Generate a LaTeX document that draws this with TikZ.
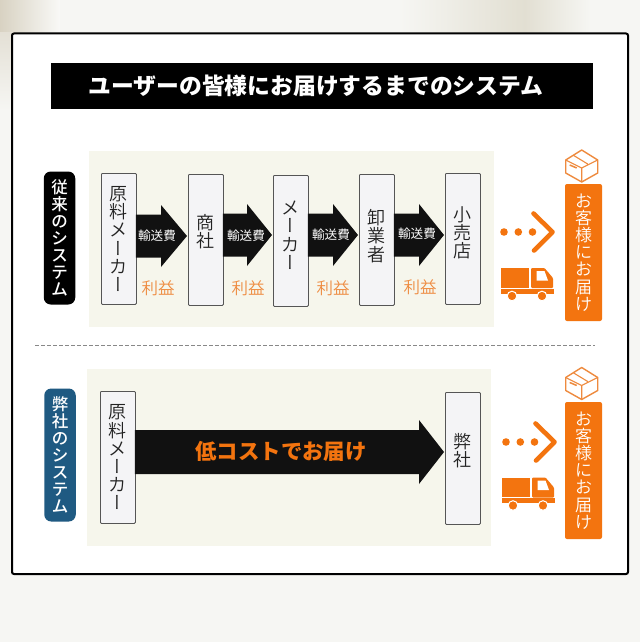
\documentclass[tikz,border=0pt]{standalone}
\usepackage{fontspec}
\setmainfont{Noto Sans CJK JP}
\newfontfamily\vertf[RawFeature=+vert]{Noto Sans CJK JP}
\newfontfamily\medf{Noto Sans CJK JP Medium}
\newfontfamily\lightf{Noto Sans CJK JP DemiLight}
\newfontfamily\lightvertf[RawFeature=+vert]{Noto Sans CJK JP DemiLight}
\lineskiplimit=-20pt
\definecolor{pagebg}{HTML}{F6F6F3}
\definecolor{rowbg}{HTML}{F6F6EC}
\definecolor{boxfill}{HTML}{F4F4F6}
\definecolor{boxline}{HTML}{555555}
\definecolor{ink}{HTML}{222222}
\definecolor{arrowblack}{HTML}{111111}
\definecolor{accent}{HTML}{F3740F}
\definecolor{softorange}{HTML}{EE8A3E}
\definecolor{navy}{HTML}{1F5A82}
\definecolor{beige}{HTML}{D8D2C2}
\definecolor{topbeige}{HTML}{E2DFD2}
\newcommand\vb{{\lightvertf ー}}
\newcommand\flowarrow[6]{%
  \fill[arrowblack] ([xshift=-1pt]#1.east |- 0,#3-#5) -- (#4,#3-#5) -- (#4,#3-#6)
    -- ([xshift=-1pt]#2.west |- 0,#3) -- (#4,#3+#6) -- (#4,#3+#5)
    -- ([xshift=-1pt]#1.east |- 0,#3+#5) -- cycle;}
\tikzset{
  x=1pt,y=-1pt,
  stage/.style={draw=boxline,line width=0.8pt,fill=boxfill,rounded corners=1pt,minimum width=35pt,anchor=north west,inner sep=0pt,text=ink,align=center,font=\fontsize{18}{18.2}\selectfont\lightf},
  tag/.style={rounded corners=7pt,minimum width=31.5pt,minimum height=133pt,inner sep=0pt,text=white,align=center,font=\fontsize{16.5}{17}\selectfont\medf},
  cost/.style={text=white,inner sep=0pt,font=\fontsize{12.6}{13}\selectfont},
  profit/.style={text=softorange,inner sep=0pt,font=\fontsize{16.5}{18}\selectfont\lightf},
  customer/.style={fill=accent,rounded corners=2pt,minimum width=37pt,minimum height=137pt,inner sep=0pt,text=white,align=center,font=\fontsize{17}{17.2}\selectfont\lightf},
  parcel/.pic={
    \draw[softorange,line width=1.4pt,line join=round,fill=white]
      (0,-16) -- (16,-6) -- (16,7) -- (0,16) -- (-16,7) -- (-16,-6) -- cycle;
    \draw[softorange,line width=1.1pt,line join=round]
      (-16,-6) -- (0,2) -- (16,-6) (0,2) -- (0,16)
      (-8,-10.5) -- (6,-2);
    \draw[softorange,line width=1.5pt] (-12,-1) -- (-5,2);
  },
  delivery/.pic={
    \fill[accent] (0,0) rectangle (28.5,19.5);
    \fill[accent] (0,20.5) rectangle (53,25.5);
    \fill[accent,rounded corners=1pt] (30.5,0) -- (44,0) -- (52.5,10) -- (52.5,20) -- (30.5,20) -- cycle;
    \fill[white] (36,3) -- (44,3) -- (47.5,12.5) -- (36,12.5) -- cycle;
    \fill[accent,draw=white,line width=1pt] (11.5,28) circle (4.8);
    \fill[accent,draw=white,line width=1pt] (41.5,28) circle (4.8);
  },
  dotsarrow/.pic={
    \fill[accent] (0,0) circle (3.8) (14.3,0) circle (3.8) (28.5,0) circle (3.8);
    \draw[accent,line width=4.6pt,line cap=round,line join=round] (29.5,-18.5) -- (48.5,0) -- (30,18.5);
  },
}
\begin{document}
\begin{tikzpicture}
\useasboundingbox (0,0) rectangle (640,642);
\fill[pagebg] (0,0) rectangle (640,642);
\shade[left color=beige,right color=pagebg!70!white] (0,0) rectangle (60,33);
\shade[top color=beige!60!pagebg,bottom color=pagebg] (0,33) rectangle (12,110);
\shade[left color=pagebg,right color=topbeige] (400,0) rectangle (525,33);
\shade[left color=topbeige,right color=pagebg] (525,0) rectangle (590,33);
\draw[black,line width=2pt,fill=white,rounded corners=2pt] (12,33.5) rectangle (628,574);
\node[fill=black,minimum width=542pt,minimum height=46pt,inner sep=0pt,text=white,font=\fontsize{22.8}{24}\selectfont\bfseries] (title) at (322,86) {ユーザーの皆様にお届けするまでのシステム\hspace*{12pt}};
\fill[rowbg] (89,151) rectangle (494,327);
\fill[rowbg] (87,369) rectangle (491,546);
\draw[boxline!70,line width=1pt,dash pattern=on 3.5pt off 2.5pt] (35,345) -- (595,345);
% row 1
\node[tag,fill=black] (tagA) at (59.5,238) {従\\来\\の\\シ\\ス\\テ\\ム};
\node[stage,minimum height=131pt] (a1) at (101,173) {原\\料\\メ\\\vb\\カ\\\vb};
\node[stage,minimum height=131pt] (a2) at (188,174) {商\\社\\[-1pt]};
\node[stage,minimum height=131pt] (a3) at (273,175) {メ\\\vb\\カ\\\vb\\[-7pt]};
\node[stage,minimum height=131pt] (a4) at (359,174) {卸\\業\\者\\[-9pt]};
\node[stage,minimum height=131pt] (a5) at (445,173) {小\\売\\店\\[-4pt]};
\flowarrow{a1}{a2}{236}{161}{21.5}{31}
\flowarrow{a2}{a3}{235}{247}{21.5}{31}
\flowarrow{a3}{a4}{235}{333}{21.5}{31}
\flowarrow{a4}{a5}{235}{419}{21.5}{31}
\node[cost] (c1) at (157,236) {輸送費};
\node[cost] (c2) at (246,236) {輸送費};
\node[cost] (c3) at (331,235) {輸送費};
\node[cost] (c4) at (417,234) {輸送費};
\node[profit] (p1) at (158,288) {利益};
\node[profit] (p2) at (248,288) {利益};
\node[profit] (p3) at (333,288) {利益};
\node[profit] (p4) at (420,287) {利益};
% row 2
\node[tag,fill=navy] (tagB) at (60,455) {弊\\社\\の\\シ\\ス\\テ\\ム};
\node[stage,minimum height=132pt] (b1) at (100,391) {原\\料\\メ\\\vb\\カ\\\vb};
\node[stage,minimum height=132pt] (b2) at (445,392) {弊\\社\\[-2pt]};
\flowarrow{b1}{b2}{452}{419}{22}{32}
\node[text=accent,inner sep=0pt,font=\fontsize{21.4}{24}\selectfont\bfseries] (low) at (281,451) {低コストでお届け};
% right
\node[customer] (cA) at (583.5,252.5) {お\\客\\様\\に\\お\\届\\け};
\node[customer] (cB) at (583.5,470.5) {お\\客\\様\\に\\お\\届\\け};
\pic at (581.7,166) {parcel};
\pic at (581.7,383.5) {parcel};
\pic at (504,232) {dotsarrow};
\pic at (506,442) {dotsarrow};
\pic at (500.5,268) {delivery};
\pic at (501.5,477.5) {delivery};
\end{tikzpicture}
\end{document}
